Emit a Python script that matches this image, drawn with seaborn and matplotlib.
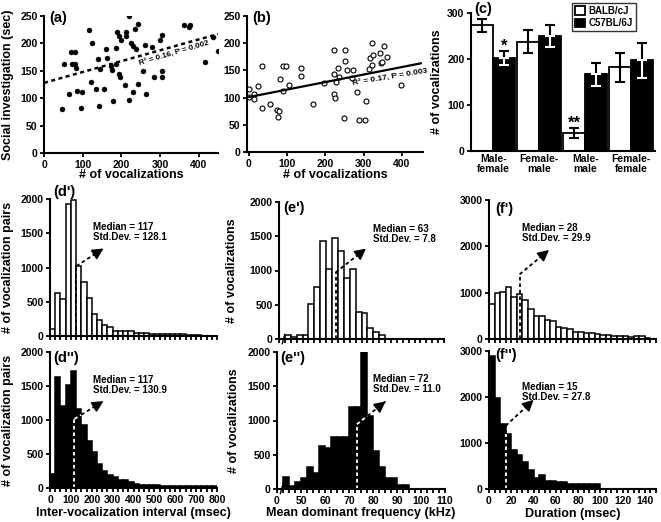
import numpy as np
import pandas as pd
import matplotlib
matplotlib.use('Agg')
import matplotlib.pyplot as plt
from matplotlib.container import BarContainer
import seaborn as sns

# ---------------- data ----------------
# (a) BALB/cJ : vocalizations vs social investigation
a_voc = [47, 52, 65, 71, 80, 73, 80, 86, 98, 95, 83, 117, 124, 122, 134, 139, 145, 143, 154,
         161, 163, 173, 175, 178, 187, 187, 189, 194, 195, 197, 199, 211, 213, 210, 221, 221,
         225, 230, 230, 236, 239, 243, 243, 256, 261, 264, 280, 285, 299, 306, 305, 305, 363,
         375, 378, 417, 437, 451]
a_soc = [81, 162, 108, 185, 163, 163, 185, 113, 112, 83, 155, 224, 200, 129, 117, 171, 153, 85,
         117, 190, 173, 159, 152, 94, 163, 192, 220, 213, 144, 139, 206, 220, 213, 124, 250, 97,
         201, 195, 112, 227, 189, 235, 126, 149, 197, 108, 194, 139, 207, 215, 150, 138, 233,
         230, 234, 166, 212, 186]
a_fit = (128.0, 0.198)   # intercept, slope of dotted regression line

# (b) C57BL/6J
b_voc = [0, 1, 13, 13, 25, 35, 35, 54, 74, 78, 76, 82, 89, 89, 98, 104, 136, 137, 167, 195,
         222, 222, 223, 224, 227, 234, 235, 249, 251, 252, 256, 269, 273, 282, 289, 304, 305,
         314, 317, 322, 324, 323, 343, 345, 349, 354, 360, 398]
b_soc = [115, 102, 107, 97, 122, 159, 80, 88, 77, 75, 64, 135, 113, 159, 159, 123, 140, 154,
         89, 127, 188, 143, 106, 99, 129, 154, 137, 62, 188, 167, 150, 136, 150, 110, 59, 58,
         93, 153, 172, 201, 179, 160, 182, 163, 165, 194, 175, 123]
b_fit = (101.0, 0.138)

# (c) number of vocalizations by pairing
pairs = ['Male-\nfemale', 'Female-\nmale', 'Male-\nmale', 'Female-\nfemale']
strains = ['BALB/cJ', 'C57BL/6J']
c_balb = [273, 237, 39, 182]
c_balb_err = [15, 25, 11, 31]
c_c57 = [202, 250, 167, 197]
c_c57_err = [16, 23, 25, 38]

# (d) inter-vocalization interval histograms (25 msec bins from 0)
d_bin_start, d_bin_w = 0, 25
d1_counts = [107, 634, 546, 1927, 1980, 1020, 790, 561, 327, 239, 156, 127, 73, 73, 73, 73,
             44, 40, 44, 35, 30, 30, 30, 25, 25, 25, 20, 20, 10, 0, 0, 0]
d2_counts = [205, 1634, 1210, 1512, 1722, 1156, 927, 698, 527, 351, 244, 185, 161, 112, 112,
             83, 63, 49, 49, 49, 49, 34, 34, 34, 34, 24, 24, 24, 24, 24, 24, 24]

# (e) mean dominant frequency histograms (2.5 kHz bins, broken axis)
e_bin_start, e_bin_w = 42.5, 2.5
e1_counts = [58, 34, 58, 58, 515, 752, 1427, 1015, 1476, 1286, 893, 1015, 398, 374, 155, 107, 58]
e2_counts = [171, 44, 107, 166, 317, 229, 629, 595, 756, 756, 756, 1200, 1200, 2000, 1068, 556,
             317, 166, 166, 59, 59]

# (f) duration histograms (5 msec bins)
f_bin_start, f_bin_w = 0, 5
f1_counts = [748, 986, 1022, 1129, 899, 964, 842, 640, 504, 504, 410, 388, 266, 245, 216, 158,
             158, 137, 122, 100, 86, 86, 72, 72, 65, 50, 65, 65, 15, 0]
f2_counts = [2892, 1988, 1410, 1193, 853, 745, 578, 405, 239, 296, 181, 181, 145, 145, 108, 108,
             108, 108, 108, 108, 0, 0, 0, 0, 0, 0, 0, 0, 0, 0]

stats = {"d1": ("117", "128.1"), "d2": ("117", "130.9"), "e1": ("63", "7.8"),
         "e2": ("72", "11.0"), "f1": ("28", "29.9"), "f2": ("15", "27.8")}

# ---------------- style ----------------
sns.set_theme(style='ticks')
plt.rcParams['font.family'] = ['Liberation Sans', 'DejaVu Sans']
plt.rcParams.update({
    'font.weight': 'bold', 'axes.labelweight': 'bold', 'axes.linewidth': 1.5,
    'xtick.major.width': 1.3, 'ytick.major.width': 1.3,
    'xtick.major.size': 3.2, 'ytick.major.size': 3.2,
    'xtick.labelsize': 7.5, 'ytick.labelsize': 7.5,
    'xtick.major.pad': 1.5, 'ytick.major.pad': 1.5,
    'xtick.color': 'black', 'ytick.color': 'black', 'axes.edgecolor': 'black',
    'text.color': 'black', 'axes.labelcolor': 'black',
})

W, H = 661, 522
fig = plt.figure(figsize=(W / 100, H / 100), dpi=100)
fig.patch.set_facecolor('white')


def px_axes(l, t, r, b):
    return fig.add_axes([l / W, 1 - b / H, (r - l) / W, (b - t) / H])


def ylab(ax, text, right_px, box):
    l, t, r, b = box
    ax.set_ylabel(text, fontsize=9, fontweight='bold')
    ax.yaxis.set_label_coords((right_px - l) / (r - l), 0.5)


def xlab(ax, text, top_px, box):
    l, t, r, b = box
    ax.set_xlabel(text, fontsize=9, fontweight='bold')
    ax.xaxis.set_label_coords(0.5, (b - top_px) / (b - t))


def panel(text, x, yc):
    fig.text(x / W, 1 - yc / H, text, fontsize=10.5, fontweight='bold', va='center', ha='left')


def style(ax):
    sns.despine(ax=ax)
    ax.tick_params(axis='both', which='both', direction='out')
    for lab in ax.get_xticklabels() + ax.get_yticklabels():
        lab.set_fontweight('bold')


DASH = (0, (2.0, 1.6))


def dline(ax, x0, y0, x1, y1, color):
    ax.plot([x0, x1], [y0, y1], ls=DASH, color=color, lw=1.3, solid_capstyle='butt')


def head(ax, x0, y0, x1, y1):
    ax.annotate('', xy=(x1, y1), xytext=(x1 - 0.2 * (x1 - x0), y1 - 0.2 * (y1 - y0)),
                arrowprops=dict(arrowstyle='-|>,head_length=0.55,head_width=0.28',
                                color='black', lw=1.2, shrinkA=0, shrinkB=0))


def med_text(ax, x, y, key):
    m, s = stats[key]
    ax.text(x, y, f"Median = {m}\nStd.Dev. = {s}", fontsize=7, fontweight='bold',
            ha='left', va='center', linespacing=1.0)


def hist(ax, start, w, counts, fill):
    n = len(counts)
    edges = [start + w * i for i in range(n + 1)]
    hdf = pd.DataFrame({'center': [start + w * (i + 0.5) for i in range(n)],
                        'count': [float(c) for c in counts]})
    sns.histplot(data=hdf, x='center', weights='count', bins=edges, ax=ax, color=fill,
                 edgecolor='black', linewidth=1.1, alpha=1, legend=False)


# ---------------- (a) ----------------
boxA = (44, 16, 218, 153)
axA = px_axes(*boxA)
sns.scatterplot(x=a_voc, y=a_soc, ax=axA, color='black', s=13, edgecolor='black', linewidth=0.3)
xs = np.array([0, 450])
axA.plot(xs, a_fit[0] + a_fit[1] * xs, ls=(0, (1.6, 1.4)), color='black', lw=1.8)
axA.set_xlim(0, 450)
axA.set_ylim(0, 250)
axA.set_xticks([0, 100, 200, 300, 400])
axA.set_yticks([0, 50, 100, 150, 200, 250])
axA.text(336, 182, "R² = 0.16, P = 0.002", fontsize=5.8, fontweight='bold',
         rotation=16.5, ha='center', va='center')
ylab(axA, "Social investigation (sec)", 14, boxA)
xlab(axA, "# of vocalizations", 169, boxA)
style(axA)

# ---------------- (b) ----------------
boxB = (247, 16, 423, 152)
axB = px_axes(*boxB)
sns.scatterplot(x=b_voc, y=b_soc, ax=axB, facecolor='white', s=13, edgecolor='black',
                linewidth=0.8)
axB.plot(xs, b_fit[0] + b_fit[1] * xs, color='black', lw=1.6)
axB.set_xlim(-5, 455)
axB.set_ylim(0, 250)
axB.set_xticks([0, 100, 200, 300, 400])
axB.set_yticks([0, 50, 100, 150, 200, 250])
axB.text(369, 137, "R² = 0.17, P = 0.003", fontsize=6, fontweight='bold',
         rotation=9.5, ha='center', va='center')
xlab(axB, "# of vocalizations", 169, boxB)
style(axB)

# ---------------- (c) ----------------
boxC = (471, 13, 655, 151)
axC = px_axes(*boxC)
cdf = pd.DataFrame({
    'pair': pairs * 2,
    'strain': [strains[0]] * 4 + [strains[1]] * 4,
    'count': c_balb + c_c57,
})
sns.barplot(data=cdf, x='pair', y='count', hue='strain', order=pairs, hue_order=strains,
            palette={strains[0]: 'white', strains[1]: 'black'}, edgecolor='black',
            linewidth=1.3, width=0.95, errorbar=None, ax=axC, saturation=1)
bar_conts = [c for c in axC.containers if isinstance(c, BarContainer)]
errs = [c_balb_err, c_c57_err]
vals = [c_balb, c_c57]
for k, cont in enumerate(bar_conts):
    for i, bar in enumerate(cont.patches):
        xc = bar.get_x() + bar.get_width() / 2
        v, e = vals[k][i], errs[k][i]
        if k == 0:
            axC.errorbar(xc, v, yerr=e, color='black', capsize=3.5, elinewidth=1.5,
                         capthick=1.5, fmt='none')
        else:
            axC.errorbar(xc, v, yerr=[[0], [e]], color='black', capsize=3.5, elinewidth=1.5,
                         capthick=1.5, fmt='none')
            axC.errorbar(xc, v, yerr=[[e], [0]], color='white', capsize=3.5, elinewidth=1.5,
                         capthick=1.5, fmt='none')
        if k == 1 and i == 0:
            axC.text(xc, v + e + 10, '*', fontsize=12, fontweight='bold', ha='center', va='center')
        if k == 0 and i == 2:
            axC.text(xc, v + e + 10, '**', fontsize=12, fontweight='bold', ha='center', va='center')
axC.set_xlim(-0.48, 3.52)
axC.set_ylim(0, 300)
axC.set_yticks([0, 100, 200, 300])
axC.tick_params(axis='x', length=0, labelsize=7.5, pad=2)
for lab in axC.get_xticklabels():
    lab.set_linespacing(1.0)
axC.set_xlabel('')
ylab(axC, "# of vocalizations", 443, boxC)
leg = axC.legend(loc='upper left', bbox_to_anchor=(572 / W, 1 - 3 / H),
                 bbox_transform=fig.transFigure, frameon=True, fancybox=False,
                 edgecolor='black', fontsize=7, handlelength=1.0, handleheight=1.0,
                 borderpad=0.3, labelspacing=0.25, handletextpad=0.4, borderaxespad=0)
leg.get_frame().set_linewidth(1.0)
for t in leg.get_texts():
    t.set_fontweight('bold')
style(axC)

# ---------------- (d) ----------------
d_ticks = np.arange(0, 801, 25)
boxD1 = (50, 199, 217, 336)
axD1 = px_axes(*boxD1)
hist(axD1, d_bin_start, d_bin_w, d1_counts, 'white')
axD1.set_xlim(0, 800)
axD1.set_ylim(0, 2000)
axD1.set_xticks(d_ticks)
axD1.set_xticklabels([])
axD1.set_yticks([0, 500, 1000, 1500, 2000])
dline(axD1, 126, 0, 126, 1020, 'black')
dline(axD1, 126, 1020, 256, 1278, 'black')
head(axD1, 126, 1020, 256, 1278)
med_text(axD1, 205, 1525, 'd1')
ylab(axD1, "# of vocalization pairs", 14, boxD1)
axD1.set_xlabel('')
style(axD1)

boxD2 = (50, 352, 217, 488)
axD2 = px_axes(*boxD2)
hist(axD2, d_bin_start, d_bin_w, d2_counts, 'black')
axD2.set_xlim(0, 800)
axD2.set_ylim(0, 2000)
axD2.set_xticks(d_ticks)
axD2.set_xticklabels([str(int(t)) if t % 100 == 0 else '' for t in d_ticks])
axD2.set_yticks([0, 500, 1000, 1500, 2000])
dline(axD2, 117, 0, 117, 1015, 'white')
dline(axD2, 117, 1015, 150, 1077, 'white')
dline(axD2, 150, 1077, 256, 1278, 'black')
head(axD2, 117, 1015, 256, 1278)
med_text(axD2, 205, 1517, 'd2')
ylab(axD2, "# of vocalization pairs", 14, boxD2)
xlab(axD2, "Inter-vocalization interval (msec)", 507, boxD2)
style(axD2)

# ---------------- (e) ----------------
e_ticks = np.arange(40, 110.01, 2.5)
e_labels = []
for t in e_ticks:
    if abs(t - 40) < 1e-6:
        e_labels.append('0')
    elif t >= 50 and abs(t % 10) < 1e-6:
        e_labels.append(str(int(t)))
    else:
        e_labels.append('')


def brk(ax):
    ax.plot([0.02, 0.035], [-0.035, 0.035], transform=ax.transAxes, color='black', lw=1.0,
            clip_on=False)


boxE1 = (279, 202, 444, 339)
axE1 = px_axes(*boxE1)
hist(axE1, e_bin_start, e_bin_w, e1_counts, 'white')
axE1.set_xlim(40, 110)
axE1.set_ylim(0, 2000)
axE1.set_xticks(e_ticks)
axE1.set_xticklabels([])
axE1.set_yticks([0, 500, 1000, 1500, 2000])
dline(axE1, 64, 0, 64, 971, 'black')
dline(axE1, 64, 971, 76.9, 1320, 'black')
head(axE1, 64, 971, 76.9, 1320)
med_text(axE1, 79.8, 1540, 'e1')
ylab(axE1, "# of vocalizations", 238, boxE1)
axE1.set_xlabel('')
style(axE1)
brk(axE1)

boxE2 = (277, 352, 445, 489)
axE2 = px_axes(*boxE2)
hist(axE2, e_bin_start, e_bin_w, e2_counts, 'black')
axE2.set_xlim(40, 110)
axE2.set_ylim(0, 2000)
axE2.set_xticks(e_ticks)
axE2.set_xticklabels(e_labels)
axE2.set_yticks([0, 500, 1000, 1500, 2000])
dline(axE2, 73.3, 0, 73.3, 946, 'white')
dline(axE2, 73.3, 946, 77.7, 1068, 'white')
dline(axE2, 77.7, 1068, 85.2, 1278, 'black')
head(axE2, 73.3, 946, 85.2, 1278)
med_text(axE2, 79.8, 1532, 'e2')
ylab(axE2, "# of vocalizations", 240, boxE2)
xlab(axE2, "Mean dominant frequency (kHz)", 507, boxE2)
style(axE2)
brk(axE2)

# ---------------- (f) ----------------
f_ticks = np.arange(0, 150.01, 5)
boxF1 = (489, 200, 656, 339)
axF1 = px_axes(*boxF1)
hist(axF1, f_bin_start, f_bin_w, f1_counts, 'white')
axF1.set_xlim(0, 150)
axF1.set_ylim(0, 3000)
axF1.set_xticks(f_ticks)
axF1.set_xticklabels([])
axF1.set_yticks([0, 1000, 2000, 3000])
dline(axF1, 27.5, 0, 27.5, 1396, 'black')
dline(axF1, 27.5, 1396, 53.9, 1921, 'black')
head(axF1, 27.5, 1396, 53.9, 1921)
med_text(axF1, 30, 2290, 'f1')
axF1.set_ylabel('')
axF1.set_xlabel('')
style(axF1)

boxF2 = (489, 351, 656, 489)
axF2 = px_axes(*boxF2)
hist(axF2, f_bin_start, f_bin_w, f2_counts, 'black')
axF2.set_xlim(0, 150)
axF2.set_ylim(0, 3000)
axF2.set_xticks(f_ticks)
axF2.set_xticklabels([str(int(t)) if t % 20 == 0 else '' for t in f_ticks])
axF2.set_yticks([0, 1000, 2000, 3000])
dline(axF2, 15, 0, 15, 1193, 'white')
dline(axF2, 15, 1193, 15, 1374, 'black')
dline(axF2, 15, 1374, 40.1, 1938, 'black')
head(axF2, 15, 1374, 40.1, 1938)
med_text(axF2, 30, 2108, 'f2')
axF2.set_ylabel('')
xlab(axF2, "Duration (msec)", 508, boxF2)
style(axF2)

# ---------------- panel labels ----------------
panel("(a)", 49, 18)
panel("(b)", 252, 18)
panel("(c)", 474, 9)
panel("(d')", 53, 192)
panel("(d'')", 53, 358)
panel("(e')", 283, 208)
panel("(e'')", 280, 358)
panel("(f')", 495, 209)
panel("(f'')", 495, 355)

fig.savefig('out.png', dpi=100, facecolor='white')
